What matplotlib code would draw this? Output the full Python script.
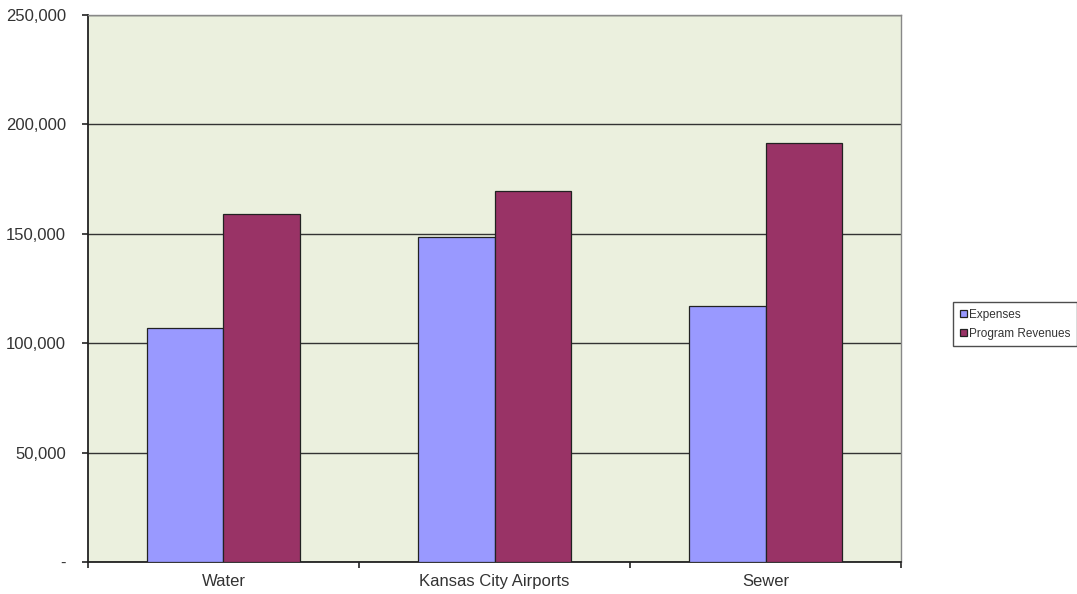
import numpy as np
import matplotlib
matplotlib.use("Agg")
import matplotlib.pyplot as plt
from matplotlib.ticker import FuncFormatter, FixedLocator

plt.rcParams["font.family"] = ["Liberation Sans", "DejaVu Sans"]

# ── Data ──────────────────────────────────────────────────────────────────────
categories = ["Water", "Kansas City Airports", "Sewer"]
expenses = [107000, 148500, 117200]
program_revenues = [158900, 169400, 191500]
series_names = ["Expenses", "Program Revenues"]

# ── Plot ──────────────────────────────────────────────────────────────────────
fig = plt.figure(figsize=(10.77, 5.94), dpi=100)
ax = fig.add_axes([0.0817, 0.0539, 0.7549, 0.9208])
ax.set_facecolor("#EBF0DE")

x = np.arange(len(categories))
w = 0.284
ax.bar(x - w / 2, expenses, width=w, color="#9999FF", edgecolor="#222222",
       lw=0.9, label=series_names[0], zorder=3)
ax.bar(x + w / 2, program_revenues, width=w, color="#993366", edgecolor="#222222",
       lw=0.9, label=series_names[1], zorder=3)

ax.set_xlim(-0.5, len(categories) - 0.5)
ax.set_ylim(0, 250000)
ax.set_yticks(np.arange(0, 250001, 50000))
ax.yaxis.set_major_formatter(FuncFormatter(lambda v, p: "-" if v == 0 else f"{v:,.0f}"))
ax.grid(axis="y", color="#333333", lw=1.0, zorder=1)

# category labels centred, tick marks at boundaries
ax.set_xticks(x)
ax.set_xticklabels(categories, fontsize=12, color="#333333")
ax.tick_params(axis="x", length=0, pad=9)
ax.xaxis.set_minor_locator(FixedLocator(np.arange(-0.5, len(categories), 1.0)))
ax.tick_params(axis="x", which="minor", length=4, width=1.2, color="#222222")
ax.tick_params(axis="y", length=4, width=1.2, color="#222222", labelsize=12,
               labelcolor="#333333", pad=12)

for side in ["left", "bottom"]:
    ax.spines[side].set_color("#222222")
    ax.spines[side].set_linewidth(1.3)
for side in ["top", "right"]:
    ax.spines[side].set_color("#888888")
    ax.spines[side].set_linewidth(1.0)

leg = fig.legend(loc="center left", bbox_to_anchor=(0.885, 0.454), fontsize=8.5,
                 frameon=True, fancybox=False, edgecolor="#222222",
                 handlelength=0.6, handleheight=0.6, handletextpad=0.2,
                 borderpad=0.55, labelspacing=0.6, borderaxespad=0)
leg.get_frame().set_linewidth(1.0)
for t in leg.get_texts():
    t.set_color("#333333")

plt.savefig("out.png", dpi=100)
